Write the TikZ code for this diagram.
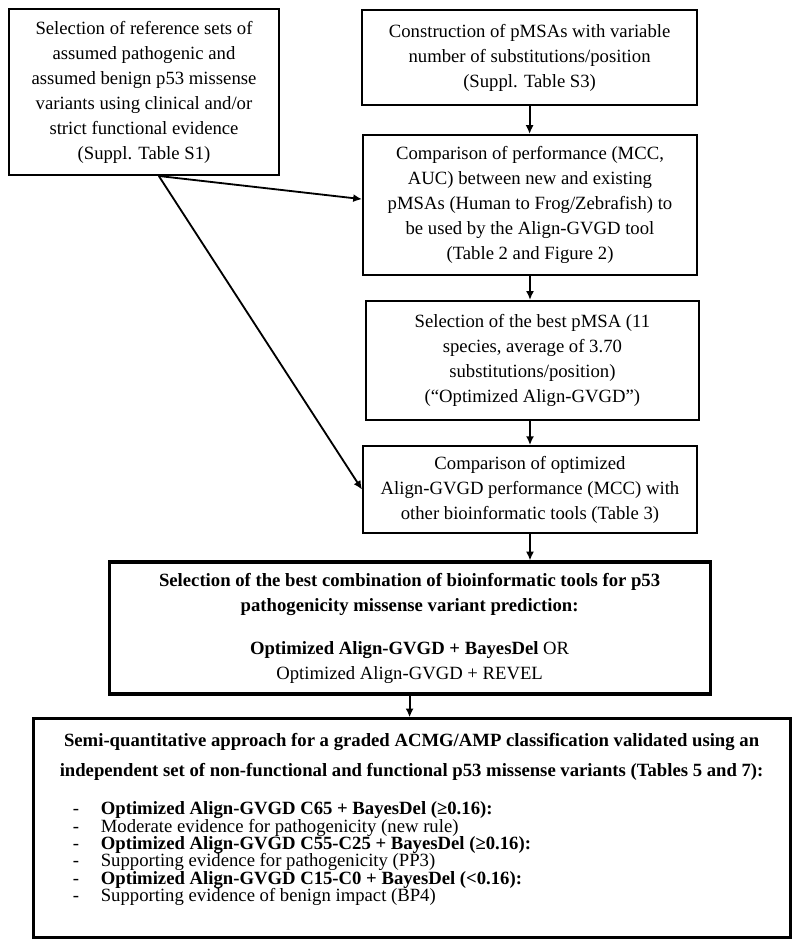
\documentclass[tikz,border=0pt]{standalone}
\usepackage{fontspec}
\setmainfont{Liberation Serif}
\usetikzlibrary{arrows.meta,positioning}

\newcommand{\tightLines}{\fontsize{13.3}{12.4}\selectfont\lineskiplimit=-5pt\relax}

\tikzset{
  flowBox/.style={draw=black, line width=1.4pt, inner sep=0pt, align=center},
  resultBox/.style={draw=black, line width=2.2pt, inner sep=0pt, align=center},
  flowArrow/.style={-{Latex[length=2.2mm,width=2mm]}, line width=1.3pt},
}

\begin{document}
\begin{tikzpicture}[font=\fontsize{13.3}{17.8}\selectfont]
  \useasboundingbox (0,0) rectangle (20,-23.725);
  % reference sets and pMSA column
  \node[flowBox, minimum width=6.75cm, minimum height=4.15cm] (refSets) at (3.6,-2.3) {Selection of reference sets of\\assumed pathogenic and\\assumed benign p53 missense\\variants using clinical and/or\\strict functional evidence\\(Suppl. Table S1)};
  \node[flowBox, minimum width=8.375cm, minimum height=2.375cm] (buildMSA) at (13.24,-1.44) {Construction of pMSAs with variable\\number of substitutions/position\\(Suppl. Table S3)};
  \node[flowBox, minimum width=8.35cm, minimum height=3.5cm] (compMSA) at (13.25,-5.125) {Comparison of performance (MCC,\\AUC) between new and existing\\pMSAs (Human to Frog/Zebrafish) to\\be used by the Align-GVGD tool\\(Table 2 and Figure 2)};
  \node[flowBox, minimum width=8.325cm, minimum height=2.975cm] (bestMSA) at (13.31,-9.01) {Selection of the best pMSA (11\\species, average of 3.70\\substitutions/position)\\(“Optimized Align-GVGD”)};
  \node[flowBox, minimum width=8.35cm, minimum height=2.175cm] (optComp) at (13.25,-12.24) {Comparison of optimized\\Align-GVGD performance (MCC) with\\other bioinformatic tools (Table 3)};
  % combination and classification
  \node[resultBox, minimum width=15.025cm, minimum height=3.3cm] (bestCombo) at (10.24,-15.7) {\textbf{Selection of the best combination of bioinformatic tools for p53}\\\textbf{pathogenicity missense variant prediction:}\\[0.45cm]\textbf{Optimized Align-GVGD + BayesDel} OR\\Optimized Align-GVGD + REVEL};
  \node[resultBox, minimum width=18.925cm, minimum height=5.475cm] (graded) at (10.29,-20.71) {};
  \node[anchor=north, inner sep=0pt, align=center, font=\fontsize{13.3}{21.3}\selectfont\bfseries] (gradedHead) at ([yshift=-0.4cm]graded.north) {Semi-quantitative approach for a graded ACMG/AMP classification validated using an\\independent set of non-functional and functional p53 missense variants (Tables 5 and 7):};
  \node[anchor=north west, inner sep=0pt, align=left, font=\tightLines] (gradedList) at ([xshift=1.025cm,yshift=-2.1cm]graded.north west) {\makebox[0.7cm][l]{-}\textbf{Optimized Align-GVGD C65 + BayesDel (≥0.16):}\\\makebox[0.7cm][l]{-}Moderate evidence for pathogenicity (new rule)\\\makebox[0.7cm][l]{-}\textbf{Optimized Align-GVGD C55-C25 + BayesDel (≥0.16):}\\\makebox[0.7cm][l]{-}Supporting evidence for pathogenicity (PP3)\\\makebox[0.7cm][l]{-}\textbf{Optimized Align-GVGD C15-C0 + BayesDel (<0.16):}\\\makebox[0.7cm][l]{-}Supporting evidence of benign impact (BP4)};
  % connectors
  \draw[flowArrow] (refSets.-80) -- (compMSA.178);
  \draw[flowArrow] (refSets.-80) -- (optComp.west);
  \draw[flowArrow] (buildMSA.south) -- (buildMSA.south |- compMSA.north);
  \draw[flowArrow] (compMSA.south) -- (compMSA.south |- bestMSA.north);
  \draw[flowArrow] (optComp.north |- bestMSA.south) -- (optComp.north);
  \draw[flowArrow] (optComp.south) -- (optComp.south |- bestCombo.north);
  \draw[flowArrow] (bestCombo.south) -- (bestCombo.south |- graded.north);
\end{tikzpicture}
\end{document}
